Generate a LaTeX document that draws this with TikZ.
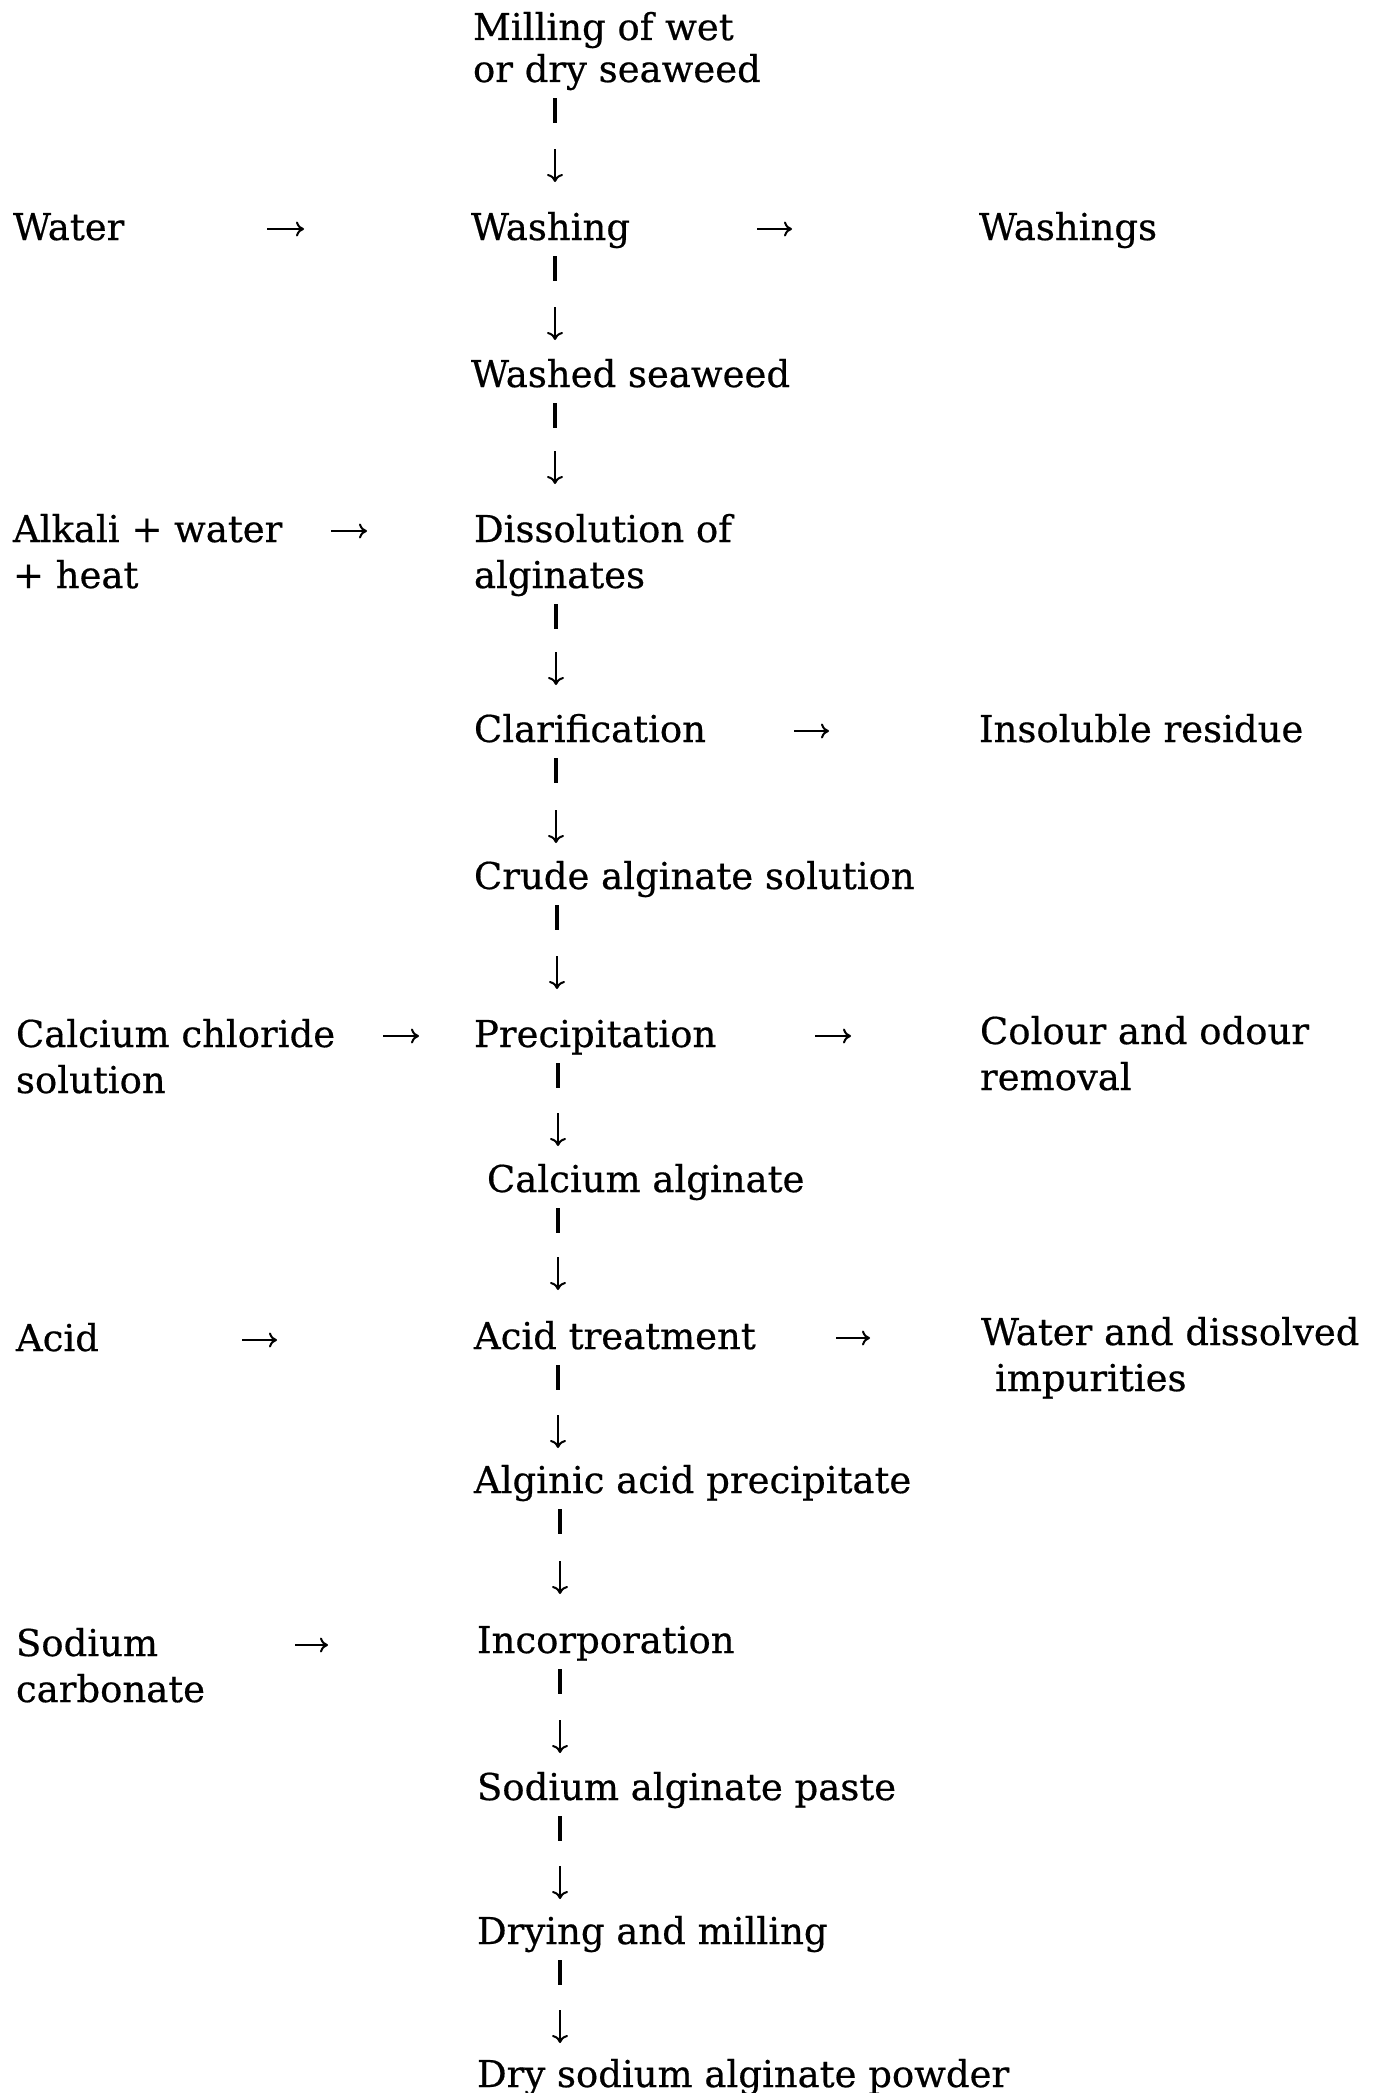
\documentclass[tikz,border=0pt]{standalone}
\usepackage{fontspec}
\setmainfont[FakeBold=0.5]{DejaVu Serif}
\usetikzlibrary{arrows.meta}
\newcommand\twolines[3]{{\fontsize{37}{#1}\selectfont\begin{tabular}[t]{@{}l@{}}#2\\#3\end{tabular}}}
% #1 source, #2 offset of its last line, #3 target, #4 x, #5 gap of the tip above the target's baseline
\newcommand\flowstep[5]{%
  \draw[vbar] (#4,0 |- #1.base) ++(0,#2+16) -- ++(0,25);
  \draw[varr] (#4,0 |- #3.base) ++(0,-#5-33) -- ++(0,33);}
\newcommand\sidearrow[3]{%
  \draw[harr] (#2,0 |- #1.base) ++(0,-11) -- ++(#3,0);}
\begin{document}
\begin{tikzpicture}[x=1pt,y=-1pt,
  every node/.style={inner sep=0pt, outer sep=0pt, anchor=base west,
    font=\fontsize{37}{46}\selectfont, text=black},
  vbar/.style={line width=3.6pt, line cap=butt},
  varr/.style={line width=2pt, -{To[length=8pt,width=16pt]}},
  harr/.style={line width=2pt, -{To[length=8pt,width=15pt]}}]
\useasboundingbox[fill=white] (0,0) rectangle (1386,2093);

\node (mill) at (473,40) {\twolines{42}{Milling of wet}{or dry seaweed}};
\node (water) at (13,240) {Water};
\node (wash) at (471,240) {Washing};
\node (washings) at (979,240) {Washings};
\node (washed) at (471,387) {Washed seaweed};
\node (alkali) at (13,542) {\twolines{46}{Alkali + water}{+ heat}};
\node (diss) at (474,542) {\twolines{46}{Dissolution of}{alginates}};
\node (clar) at (474,742) {Clarification};
\node (resid) at (979,742) {Insoluble residue};
\node (crude) at (474,889) {Crude alginate solution};
\node (cacl) at (16,1047) {\twolines{46}{Calcium chloride}{solution}};
\node (precip) at (474,1047) {Precipitation};
\node (colour) at (980,1044) {\twolines{46}{Colour and odour}{removal}};
\node (calg) at (487,1192) {Calcium alginate};
\node (acid) at (16,1351) {Acid};
\node (acidt) at (474,1349) {Acid treatment};
\node (impur) at (981,1345) {\twolines{46}{Water and dissolved}{\hspace*{14pt}impurities}};
\node (algin) at (474,1493) {Alginic acid precipitate};
\node (sodium) at (16,1656) {\twolines{46}{Sodium}{carbonate}};
\node (incorp) at (477,1653) {Incorporation};
\node (paste) at (477,1800) {Sodium alginate paste};
\node (drying) at (477,1944) {Drying and milling};
\node (powder) at (477,2087) {Dry sodium alginate powder};

\flowstep{mill}{42}{wash}{555}{58}
\flowstep{wash}{0}{washed}{555}{47}
\flowstep{washed}{0}{diss}{555}{58}
\flowstep{diss}{46}{clar}{556}{57}
\flowstep{clar}{0}{crude}{556}{46}
\flowstep{crude}{0}{precip}{557}{58}
\flowstep{precip}{0}{calg}{558}{46}
\flowstep{calg}{0}{acidt}{558}{59}
\flowstep{acidt}{0}{algin}{558}{45}
\flowstep{algin}{0}{incorp}{560}{59}
\flowstep{incorp}{0}{paste}{560}{47}
\flowstep{paste}{0}{drying}{560}{45}
\flowstep{drying}{0}{powder}{560}{44}

\sidearrow{water}{267}{37}
\sidearrow{wash}{757}{35}
\sidearrow{alkali}{331}{36}
\sidearrow{clar}{794}{35}
\sidearrow{cacl}{383}{36}
\sidearrow{precip}{815}{36}
\sidearrow{acid}{242}{35}
\sidearrow{acidt}{836}{34}
\sidearrow{sodium}{295}{33}
\end{tikzpicture}
\end{document}
